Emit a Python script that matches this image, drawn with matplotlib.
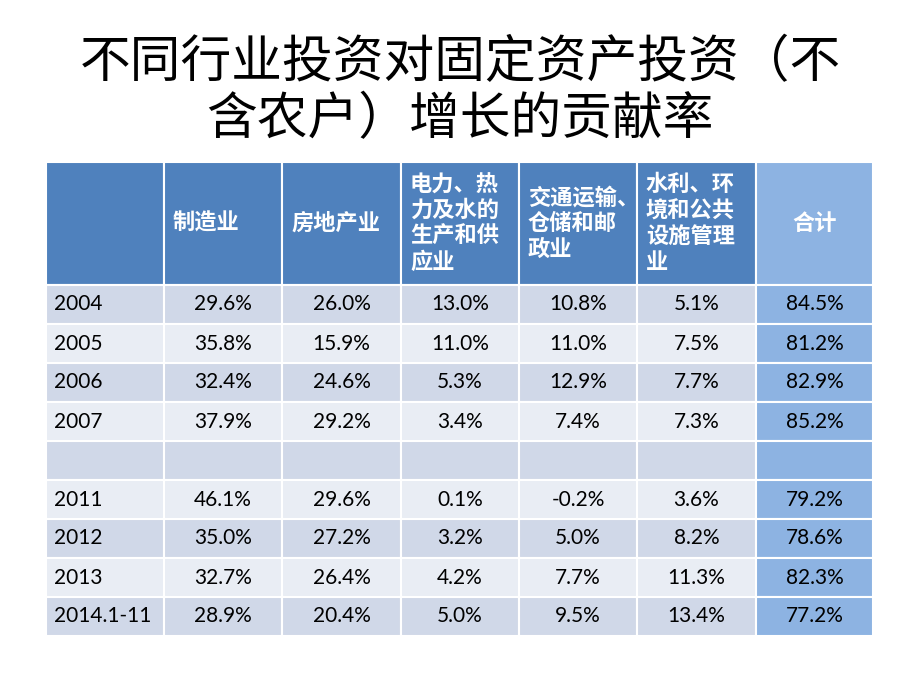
import matplotlib.pyplot as plt
from matplotlib.patches import Rectangle

plt.rcParams['font.family'] = ['Noto Sans CJK SC', 'DejaVu Sans']

title_lines = ["不同行业投资对固定资产投资（不", "含农户）增长的贡献率"]
headers = ["", "制造业", "房地产业", "电力、热\n力及水的\n生产和供\n应业",
           "交通运输、\n仓储和邮\n政业", "水利、环\n境和公共\n设施管理\n业", "合计"]
years = ["2004", "2005", "2006", "2007", "", "2011", "2012", "2013", "2014.1-11"]
manufacturing = ["29.6%", "35.8%", "32.4%", "37.9%", "", "46.1%", "35.0%", "32.7%", "28.9%"]
real_estate = ["26.0%", "15.9%", "24.6%", "29.2%", "", "29.6%", "27.2%", "26.4%", "20.4%"]
utilities = ["13.0%", "11.0%", "5.3%", "3.4%", "", "0.1%", "3.2%", "4.2%", "5.0%"]
transport = ["10.8%", "11.0%", "12.9%", "7.4%", "", "-0.2%", "5.0%", "7.7%", "9.5%"]
water_env = ["5.1%", "7.5%", "7.7%", "7.3%", "", "3.6%", "8.2%", "11.3%", "13.4%"]
total = ["84.5%", "81.2%", "82.9%", "85.2%", "", "79.2%", "78.6%", "82.3%", "77.2%"]

columns = [years, manufacturing, real_estate, utilities, transport, water_env, total]

fig = plt.figure(figsize=(9.2, 6.9), dpi=100)
ax = fig.add_axes([0, 0, 1, 1])
ax.set_xlim(0, 920)
ax.set_ylim(690, 0)
ax.axis('off')

# title
for i, line in enumerate(title_lines):
    ax.text(460, 63 + i * 57, line, ha='center', va='center', fontsize=36.5,
            color='black', fontweight='light')

col_x = [46, 164, 282, 401, 519, 637, 756, 873]
head_top, head_bot = 162, 285
row_h = 39

# header
for j, h in enumerate(headers):
    x0, x1 = col_x[j], col_x[j + 1]
    fc = '#8db3e2' if j == len(headers) - 1 else '#4f81bd'
    ax.add_patch(Rectangle((x0, head_top), x1 - x0, head_bot - head_top,
                           facecolor=fc, edgecolor='white', linewidth=1.5))
    if j == len(headers) - 1:
        ax.text((x0 + x1) / 2, (head_top + head_bot) / 2, h, ha='center', va='center',
                fontsize=16, color='white', fontweight='bold')
    elif h:
        ax.text(x0 + 9, (head_top + head_bot) / 2, h, ha='left', va='center',
                fontsize=16, color='white', fontweight='bold', linespacing=1.15)

# body
for i in range(len(years)):
    y0 = head_bot + i * row_h
    fc_row = '#d0d8e8' if i % 2 == 0 else '#e9edf4'
    for j, col in enumerate(columns):
        x0, x1 = col_x[j], col_x[j + 1]
        fc = '#8db3e2' if j == len(columns) - 1 else fc_row
        ax.add_patch(Rectangle((x0, y0), x1 - x0, row_h,
                               facecolor=fc, edgecolor='white', linewidth=1.5))
        if j == 0:
            ax.text(x0 + 8, y0 + row_h / 2, col[i], ha='left', va='center',
                    fontsize=15, color='black', family=['Lato', 'DejaVu Sans'])
        else:
            ax.text((x0 + x1) / 2, y0 + row_h / 2, col[i], ha='center', va='center',
                    fontsize=15, color='black', family=['Lato', 'DejaVu Sans'])

fig.savefig("out.png", dpi=100)
